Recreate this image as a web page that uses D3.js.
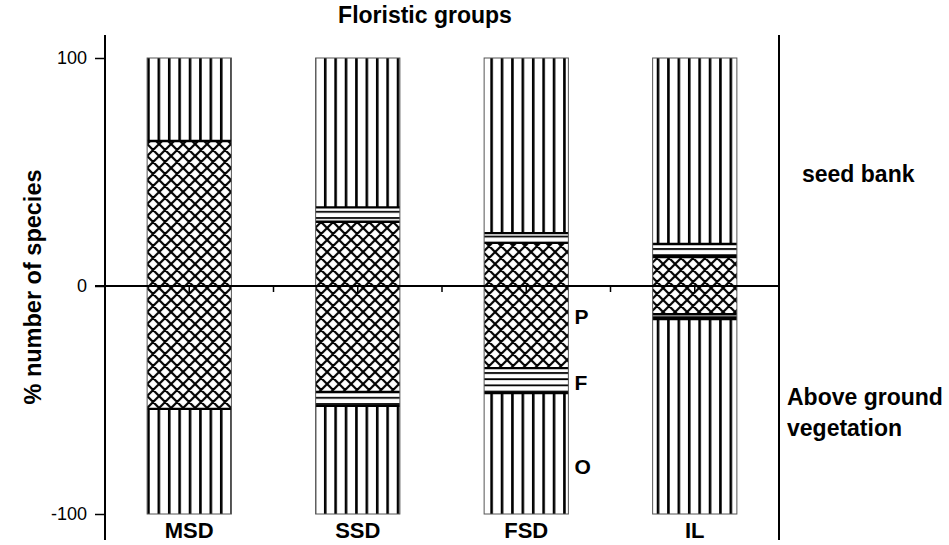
<!DOCTYPE html>
<html><head><meta charset="utf-8">
<script src="https://cdn.jsdelivr.net/npm/d3@7"></script>
<style>body{margin:0;background:#fff}svg{display:block;font-family:"Liberation Sans",Arial,sans-serif}</style>
</head><body>
<svg id="c" width="949" height="545"></svg>
<script>
const categories = ["MSD","SSD","FSD","IL"];
// seed bank (positive side)
const seedP = [63.6, 28.2, 18.9, 12.7];
const seedF = [0, 6.3, 4.3, 5.7];
const seedO = [36.4, 65.5, 76.8, 81.6];
// above ground vegetation (negative side)
const vegP = [53.9, 46.5, 36.0, 12.4];
const vegF = [0, 6.0, 11.0, 2.1];
const vegO = [46.1, 47.5, 53.0, 85.5];
const yTicks = [-100, 0, 100];
const groupLabels = ["P","F","O"];
const groupLabelPos = [-13.2, -42, -79];

const svg = d3.select("#c");
const x = d3.scaleBand().domain(categories).range([105, 779]).padding(0);
const y = d3.scaleLinear().domain([-100, 100]).range([514, 58]);
const barW = x.bandwidth() * 0.5;

const defs = svg.append("defs");
// vertical lines
const pv = defs.append("pattern").attr("id","pv").attr("patternUnits","userSpaceOnUse")
  .attr("width",10.4).attr("height",10).attr("x",x("MSD")+x.bandwidth()/2-barW/2);
pv.append("rect").attr("width",10.4).attr("height",10).attr("fill","#fff");
pv.append("line").attr("x1",1.3).attr("x2",1.3).attr("y1",0).attr("y2",10).attr("stroke","#000").attr("stroke-width",2.6);
// horizontal lines
const ph = defs.append("pattern").attr("id","ph").attr("patternUnits","userSpaceOnUse")
  .attr("width",10).attr("height",6.2);
ph.append("rect").attr("width",10).attr("height",6.2).attr("fill","#fff");
ph.append("line").attr("x1",0).attr("x2",10).attr("y1",1).attr("y2",1).attr("stroke","#000").attr("stroke-width",1.8);
// crosshatch
const s = 12;
const pc = defs.append("pattern").attr("id","pc").attr("patternUnits","userSpaceOnUse")
  .attr("width",s).attr("height",s).attr("x",x("MSD")+x.bandwidth()/2-barW/2);
pc.append("rect").attr("width",s).attr("height",s).attr("fill","#fff");
pc.append("path").attr("d",`M0,0L${s},${s}M${s},0L0,${s}M-1,${s-1}L1,${s+1}M${s-1},-1L${s+1},1M-1,1L1,-1M${s-1},${s+1}L${s+1},${s-1}`)
  .attr("stroke","#000").attr("stroke-width",2.2).attr("fill","none");

const fills = {P:"url(#pc)", F:"url(#ph)", O:"url(#pv)"};

categories.forEach((c,i)=>{
  const x0 = x(c) + x.bandwidth()/2 - barW/2;
  const g = svg.append("g");
  const posSegs = [["P",seedP[i]],["F",seedF[i]],["O",seedO[i]]];
  const negSegs = [["P",vegP[i]],["F",vegF[i]],["O",vegO[i]]];
  let acc = 0;
  const bounds = [];
  posSegs.forEach(([k,v])=>{
    if(v>0){
      g.append("rect").attr("x",x0).attr("width",barW)
        .attr("y",y(acc+v)).attr("height",y(acc)-y(acc+v)).attr("fill",fills[k]);
      if(k!=="O") bounds.push(acc+v);
    }
    acc += v;
  });
  acc = 0;
  negSegs.forEach(([k,v])=>{
    if(v>0){
      g.append("rect").attr("x",x0).attr("width",barW)
        .attr("y",y(acc)).attr("height",y(acc-v)-y(acc)).attr("fill",fills[k]);
      if(k!=="O") bounds.push(acc-v);
    }
    acc -= v;
  });
  bounds.forEach(b=>{
    g.append("line").attr("x1",x0).attr("x2",x0+barW).attr("y1",y(b)).attr("y2",y(b))
      .attr("stroke","#000").attr("stroke-width",2.4);
  });
  g.append("rect").attr("x",x0).attr("width",barW).attr("y",y(100)).attr("height",y(-100)-y(100))
    .attr("fill","none").attr("stroke","#555").attr("stroke-width",1);
});

// y axis
const ya = svg.append("g").attr("transform","translate(105,0)")
  .call(d3.axisLeft(y).tickValues(yTicks).tickSize(10).tickPadding(8).tickFormat(d=>String(d)));
ya.select(".domain").remove();
ya.selectAll("text").attr("font-size",18).attr("fill","#000").style("font-family","Liberation Sans, Arial, sans-serif");
ya.selectAll("line").attr("stroke","#000").attr("stroke-width",1.5);
svg.append("line").attr("x1",105).attr("x2",105).attr("y1",y(110.1)).attr("y2",y(-111.4)).attr("stroke","#000").attr("stroke-width",2);
svg.append("line").attr("x1",779).attr("x2",779).attr("y1",y(110.1)).attr("y2",y(-111.4)).attr("stroke","#000").attr("stroke-width",2);

// zero axis with ticks
const zeroTicks = categories.map(c=>x(c)+x.bandwidth()/2).concat(categories.slice(1).map(c=>x(c)));
svg.append("line").attr("x1",95).attr("x2",779).attr("y1",y(0)).attr("y2",y(0)).attr("stroke","#000").attr("stroke-width",2);
svg.append("g").selectAll("line").data(zeroTicks).join("line")
  .attr("x1",d=>d).attr("x2",d=>d).attr("y1",y(0)).attr("y2",y(0)+6).attr("stroke","#000").attr("stroke-width",1.5);

// category labels
svg.append("g").selectAll("text").data(categories).join("text")
  .attr("x",d=>x(d)+x.bandwidth()/2).attr("y",538).attr("text-anchor","middle")
  .attr("font-weight","bold").attr("font-size",22).text(d=>d);

// titles
svg.append("text").attr("x",425).attr("y",23).attr("text-anchor","middle").attr("font-weight","bold").attr("font-size",23).text("Floristic groups");
svg.append("text").attr("transform","translate(41,287) rotate(-90)").attr("text-anchor","middle").attr("font-weight","bold").attr("font-size",23.5).text("% number of species");
svg.append("text").attr("x",802).attr("y",182).attr("font-weight","bold").attr("font-size",23).text("seed bank");
svg.append("text").attr("x",787).attr("y",405).attr("font-weight","bold").attr("font-size",23).text("Above ground");
svg.append("text").attr("x",787).attr("y",436).attr("font-weight","bold").attr("font-size",23).text("vegetation");

// group labels P F O next to FSD
const fx = x("FSD")+x.bandwidth()/2+barW/2+6;
svg.append("g").selectAll("text").data(groupLabels).join("text")
  .attr("x",fx).attr("y",(d,i)=>y(groupLabelPos[i])+8).attr("font-weight","bold").attr("font-size",21).text(d=>d);
</script>
</body></html>
